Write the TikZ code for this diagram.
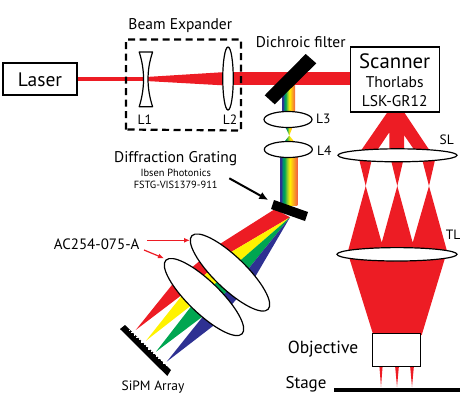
\documentclass[tikz,border=0pt]{standalone}
\usepackage{fontspec}
\setmainfont{PT Sans}
\usetikzlibrary{arrows.meta,shapes.geometric}
\definecolor{bred}{RGB}{237,28,36}
\definecolor{byel}{RGB}{255,242,0}
\definecolor{bgrn}{RGB}{0,166,81}
\definecolor{bblu}{RGB}{46,49,146}
\pgfdeclarehorizontalshading{rainbowbeam}{100bp}{
 rgb(0bp)=(0.18,0.19,0.57);
 rgb(28bp)=(0.18,0.19,0.57);
 rgb(33bp)=(0,0.55,0.45);
 rgb(38bp)=(0,0.65,0.32);
 rgb(45bp)=(0.55,0.78,0.2);
 rgb(53bp)=(1,0.95,0);
 rgb(63bp)=(0.98,0.68,0.12);
 rgb(75bp)=(0.95,0.38,0.25);
 rgb(100bp)=(0.95,0.38,0.25)}
\tikzset{
 optic/.style={draw=black,fill=white,line width=1.2pt},
 boxed/.style={draw=black,fill=white,line width=1.1pt},
 lbl/.style={inner sep=0pt,text=black,font=\fontsize{15.5}{16}\selectfont},
 lensname/.style={inner sep=0pt,text=black,font=\fontsize{13.5}{14}\selectfont},
 small/.style={inner sep=0pt,text=black,font=\fontsize{10.4}{11}\selectfont},
 redptr/.style={draw=bred,line width=1.2pt,-{Latex[length=6pt,width=5pt]}},
 blkptr/.style={draw=black,line width=2pt,-{Latex[length=9pt,width=8pt]}},
}
\begin{document}
\begin{tikzpicture}[x=1pt,y=-1pt]
\useasboundingbox (0,0) rectangle (468,400);
% laser beam
\fill[bred] (77,77) rectangle (148,81);
\fill[bred] (146,77) -- (226,72) -- (226,85.5) -- (146,81) -- cycle;
\fill[bred] (226,72) rectangle (351,85);
% spectrum
\shade[shading=rainbowbeam] (282.3,84) rectangle (295,113);
\shade[shading=rainbowbeam] (285,126) -- (293,126) -- (289.3,135.5) -- cycle;
\shade[shading=rainbowbeam] (289.3,135.5) -- (296,144) -- (282.7,144) -- cycle;
\shade[shading=rainbowbeam] (280,156) rectangle (297.3,205);
% diffracted bands
\fill[bred] (275,209) -- (290,217.3) -- (230,252.7) -- (218.3,245) -- cycle;
\fill[byel] (290,217.3) -- (240,260.7) -- (230,252.7) -- cycle;
\fill[bgrn] (290,217.3) -- (248.3,269) -- (240,260.7) -- cycle;
\fill[bblu] (290,217.3) -- (254.3,278.3) -- (248.3,269) -- cycle;
\fill[bred] (218.3,245) -- (230,252.7) -- (182,295) -- (173.3,283.3) -- cycle;
\fill[byel] (230,252.7) -- (240,260.7) -- (191.7,305.5) -- (182,295) -- cycle;
\fill[bgrn] (240,260.7) -- (248.3,269) -- (203.3,316) -- (191.7,305.5) -- cycle;
\fill[bblu] (248.3,269) -- (254.3,278.3) -- (214.3,325) -- (203.3,316) -- cycle;
\fill[bred] (173.3,283.3) -- (181.7,295) -- (135.7,330) -- cycle;
\fill[byel] (182.3,295) -- (191.7,305) -- (146,340.7) -- cycle;
\fill[bgrn] (191.7,305.7) -- (203.3,316) -- (156,351.7) -- cycle;
\fill[bblu] (203.3,316) -- (214.3,325) -- (166.7,361.7) -- cycle;
% scanner beams
\fill[bred] (388.3,111) -- (403.3,111) -- (430,151) -- (415,151) -- (404,135) -- (404,151)
  -- (389.3,151) -- (389.3,132.3) -- (376.7,151) -- (360.7,151) -- cycle;
\fill[bred] (359.3,160) -- (371.7,160) -- (365.7,186) -- cycle;
\fill[bred] (391,160) -- (403.3,160) -- (397.3,186) -- cycle;
\fill[bred] (422.3,160) -- (435,160) -- (429,186) -- cycle;
\fill[bred] (365.7,186) -- (381.7,242.7) -- (397.3,186) -- (412.7,242.7) -- (429,186)
  -- (446.7,250) -- (348.3,250) -- cycle;
\fill[bred] (349.3,258) -- (445,258) -- (421.7,335) -- (373.3,335) -- cycle;
\fill[bred] (379.3,365) -- (382.7,365) -- (381,387) -- cycle;
\fill[bred] (395,365) -- (399,365) -- (397,387) -- cycle;
\fill[bred] (410,365) -- (414,365) -- (412,387) -- cycle;
% boxes
\node[boxed,minimum width=74pt,minimum height=32pt,inner sep=0pt] (laser) at (40,79) {};
\node[boxed,minimum width=89pt,minimum height=65pt,inner sep=0pt] (scanner) at (394.7,79.5) {};
\node[boxed,minimum width=48.4pt,minimum height=33.4pt,inner sep=0pt] (objbox) at (396.5,350) {};
% beam expander
\draw[line width=2.2pt,dash pattern=on 7pt off 4.5pt] (126,129.5) -- (126,39.5) -- (241,39.5) -- (241,130.5) -- cycle;
% lenses
\draw[optic,line join=round] (139.2,52) -- (152.6,52) .. controls (146.5,70) and (146.5,88) .. (152.6,106.7)
  -- (139.2,106.7) .. controls (145,88) and (145,70) .. (139.2,52) -- cycle;
\node[optic,ellipse,minimum width=10.5pt,minimum height=63pt,inner sep=0pt] (ltwo) at (228,78.5) {};
\node[optic,ellipse,minimum width=48pt,minimum height=16pt,inner sep=0pt] (lthree) at (288,119.5) {};
\node[optic,ellipse,minimum width=48pt,minimum height=16pt,inner sep=0pt] (lfour) at (288.3,149.5) {};
\node[optic,ellipse,minimum width=119pt,minimum height=13pt,inner sep=0pt] (sl) at (397.5,155.3) {};
\node[optic,ellipse,minimum width=120pt,minimum height=13.4pt,inner sep=0pt] (tl) at (397,254.3) {};
\node[optic,ellipse,rotate=-44,minimum width=106pt,minimum height=32pt,inner sep=0pt] (acone) at (230,272.5) {};
\node[optic,ellipse,rotate=-44,minimum width=106pt,minimum height=32pt,inner sep=0pt] (actwo) at (204,297) {};
% dichroic, grating, stage
\fill[black] (305.7,54) -- (316.3,63.3) -- (274.7,104.3) -- (264.7,95.3) -- cycle;
\fill[black] (274,200) -- (308,212) -- (305,221) -- (271,209) -- cycle;
\fill[black] (334.3,387.7) rectangle (460,391.7);
% SiPM
\fill[black] (120,329) -- (125,325) -- (171,370) -- (167.3,376) -- cycle;
\foreach \i in {0,...,15}{
  \fill[white] ({129.6+\i*2.45-0.75},{330.4+\i*2.33-0.75}) rectangle ({129.6+\i*2.45+0.75},{330.4+\i*2.33+0.75});
}
% pointers
\coordinate (ra) at (147.3,240.3); \coordinate (rb) at (190,240.3);
\coordinate (rc) at (144,250); \coordinate (rd) at (164,258.3);
\coordinate (ba) at (229.3,178.3); \coordinate (bb) at (268.3,200);
\draw[redptr] (ra) -- (rb);
\draw[redptr] (rc) -- (rd);
\draw[blkptr] (ba) -- (bb);
% labels
\node[lbl,font=\fontsize{19.5}{20}\selectfont] (tlaser) at (40,80) {Laser};
\node[lbl] (tbeam) at (180.3,25.7) {Beam Expander};
\node[lensname] (tlone) at (144.7,119.3) {L1};
\node[lensname] (tltwo) at (230,119.3) {L2};
\node[lbl] (tdich) at (300.7,42.3) {Dichroic filter};
\node[lbl,font=\fontsize{20.8}{21}\selectfont] (tscan) at (394.7,61.7) {Scanner};
\node[lbl] (tthor) at (394.7,82.3) {Thorlabs};
\node[lbl] (tlsk) at (394.7,101) {LSK-GR12};
\node[lensname] (tlthree) at (323.3,119.3) {L3};
\node[lensname] (tlfour) at (324.3,151) {L4};
\node[lensname] (tsl) at (446.7,140) {SL};
\node[lensname] (ttl) at (453,235) {TL};
\node[lbl] (tdiff) at (175.7,158.7) {Diffraction Grating};
\node[small] (tibs) at (175.7,173.3) {Ibsen Photonics};
\node[small] (tfstg) at (175.7,185) {FSTG-VIS1379-911};
\node[lbl,font=\fontsize{15}{15}\selectfont] (tac) at (96.7,244.3) {AC254-075-A};
\node[lbl,font=\fontsize{13.5}{14}\selectfont] (tsipm) at (153,386.7) {SiPM Array};
\node[lbl,font=\fontsize{17.5}{18}\selectfont] (tobj) at (323,349.3) {Objective};
\node[lbl,font=\fontsize{17}{17}\selectfont] (tstage) at (306,384.5) {Stage};
\end{tikzpicture}
\end{document}
